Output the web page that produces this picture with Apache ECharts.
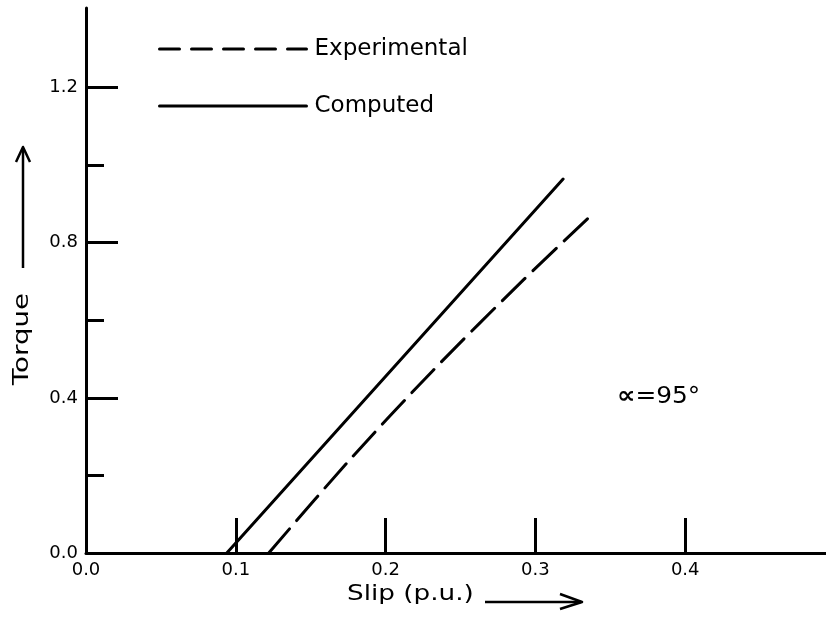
<!DOCTYPE html>
<html>
<head>
<meta charset="utf-8">
<script src="https://cdn.jsdelivr.net/npm/echarts@6/dist/echarts.min.js"></script>
<style>
  html, body { margin: 0; padding: 0; background: #fff; }
  #chart { width: 826px; height: 618px; }
</style>
</head>
<body>
<div id="chart"></div>
<script>
// Torque-slip characteristic, firing angle 95 degrees
const slipComputed = [0.094, 0.3185];
const torqueComputed = [0, 0.964];

const slipExperimental = [0.122, 0.176, 0.232, 0.292, 0.336];
const torqueExperimental = [0, 0.24, 0.472, 0.704, 0.866];

const xTickValues = [0.1, 0.2, 0.3, 0.4];
const xLabelValues = [0, 0.1, 0.2, 0.3, 0.4];
const yMajorValues = [0.4, 0.8, 1.2];
const yMinorValues = [0.2, 0.6, 1.0];
const yLabelValues = [0, 0.4, 0.8, 1.2];

const FONT = 'DejaVu Sans';
const INK = '#000';

const pairs = (xs, ys) => xs.map((x, i) => [x, ys[i]]);

const chart = echarts.init(document.getElementById('chart'), null, { renderer: 'canvas' });

const yBase = {
  type: 'value', min: 0, max: 1.405, position: 'left',
  splitLine: { show: false }
};

chart.setOption({
  animation: false,
  backgroundColor: '#fff',
  grid: { left: 86, right: 0, top: 8, bottom: 65, containLabel: false },
  xAxis: {
    type: 'value', min: 0, max: 0.494,
    splitLine: { show: false },
    axisLine: { lineStyle: { color: INK, width: 3 } },
    axisTick: {
      customValues: xTickValues, inside: true, length: 35,
      lineStyle: { color: INK, width: 3 }
    },
    axisLabel: {
      customValues: xLabelValues, margin: 8,
      color: INK, fontFamily: FONT, fontSize: 18,
      formatter: v => v.toFixed(1)
    }
  },
  yAxis: [
    Object.assign({}, yBase, {
      axisLine: { show: true, lineStyle: { color: INK, width: 3 } },
      axisTick: {
        customValues: yMajorValues, inside: true, length: 32,
        lineStyle: { color: INK, width: 3 }
      },
      axisLabel: {
        customValues: yLabelValues, margin: 8,
        color: INK, fontFamily: FONT, fontSize: 18,
        formatter: v => v.toFixed(1)
      }
    }),
    Object.assign({}, yBase, {
      axisLine: { show: false },
      axisTick: {
        customValues: yMinorValues, inside: true, length: 18,
        lineStyle: { color: INK, width: 3 }
      },
      axisLabel: { show: false }
    })
  ],
  legend: {
    orient: 'vertical', left: 158, top: 37, padding: 0,
    itemWidth: 147, itemHeight: 16, itemGap: 33,
    itemStyle: { opacity: 0 },
    textStyle: {
      color: INK, fontFamily: FONT, fontSize: 23, lineHeight: 24,
      padding: [0, 0, 0, 3]
    },
    data: [
      { name: 'Experimental', lineStyle: { type: [20, 12], width: 3, color: INK } },
      { name: 'Computed', lineStyle: { type: 'solid', width: 3, color: INK } }
    ]
  },
  series: [
    {
      name: 'Computed', type: 'line', yAxisIndex: 0,
      data: pairs(slipComputed, torqueComputed),
      symbol: 'none', color: INK,
      lineStyle: { color: INK, width: 3, cap: 'round' }
    },
    {
      name: 'Experimental', type: 'line', yAxisIndex: 0,
      data: pairs(slipExperimental, torqueExperimental),
      symbol: 'none', smooth: 0.3, color: INK,
      lineStyle: { color: INK, width: 3, type: [32, 11], cap: 'round' }
    }
  ],
  graphic: [
    {
      type: 'text', x: 347, y: 595, scaleX: 1.25,
      style: {
        text: 'Slip (p.u.)', fill: INK, font: '21px "DejaVu Sans"',
        align: 'left', verticalAlign: 'middle'
      }
    },
    {
      type: 'polyline', shape: { points: [[485, 602], [581, 602]] },
      style: { stroke: INK, lineWidth: 2.5, fill: null }
    },
    {
      type: 'polyline', shape: { points: [[560, 594], [582, 602], [560, 609]] },
      style: { stroke: INK, lineWidth: 2.5, fill: null, lineJoin: 'round' }
    },
    {
      type: 'text', x: 23, y: 339, rotation: Math.PI / 2, scaleX: 1.32,
      style: {
        text: 'Torque', fill: INK, font: '21px "DejaVu Sans"',
        align: 'center', verticalAlign: 'middle'
      }
    },
    {
      type: 'polyline', shape: { points: [[23, 268], [23, 148]] },
      style: { stroke: INK, lineWidth: 2.5, fill: null }
    },
    {
      type: 'polyline', shape: { points: [[16, 162], [23, 147], [30, 162]] },
      style: { stroke: INK, lineWidth: 2.5, fill: null, lineJoin: 'round' }
    },
    {
      type: 'text', x: 617, y: 397, scaleX: 1.08,
      style: {
        text: '{a|\u221D}=95°', fill: INK, font: '23px "DejaVu Sans"',
        align: 'left', verticalAlign: 'middle',
        rich: { a: { fontFamily: FONT, fontSize: 24, fontWeight: 'bold', fill: INK } }
      }
    }
  ]
});
</script>
</body>
</html>
